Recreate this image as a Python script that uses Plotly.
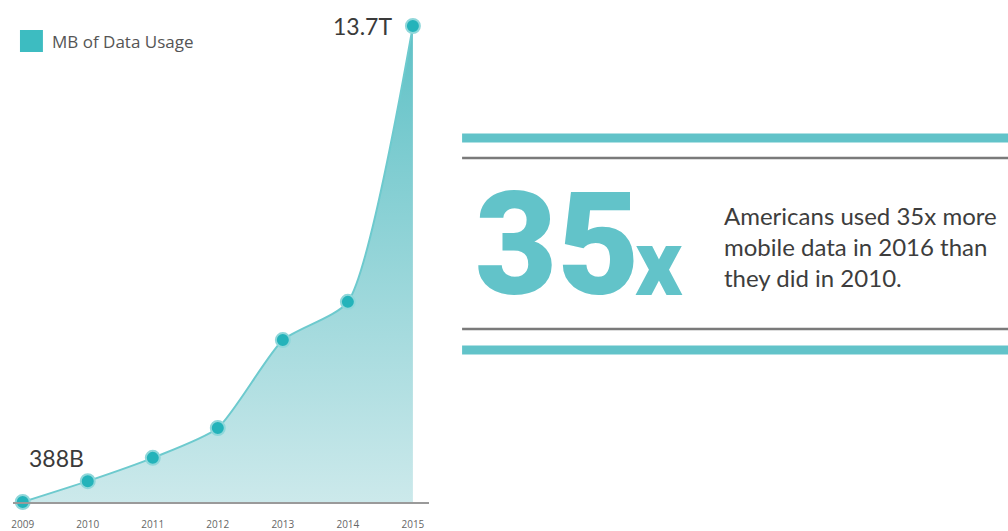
import plotly.graph_objects as go

# ---- data ----
years = [2009, 2010, 2011, 2012, 2013, 2014, 2015]
usage_tn_mb = [0.0, 0.60, 1.27, 2.13, 4.66, 5.76, 13.7]   # trillions of MB
tick_labels = ["2009", "2010", "2011", "2012", "2013", "2014", "2015"]
series_name = "MB of Data Usage"
first_label = "388B"
last_label = "13.7T"
stat_big = "35"
stat_suffix = "x"
stat_text = ["Americans used 35x more", "mobile data in 2016 than", "they did in 2010."]

W, H = 1008, 531
TEAL = "#62c3c9"
DOT = "#24b3ba"


def px(x):
    return x / W


def py(y):
    return 1 - y / H


fig = go.Figure()
fig.add_trace(go.Scatter(
    x=years, y=usage_tn_mb, mode="lines+markers", name=series_name,
    line=dict(color="#6dcace", width=2, shape="spline", smoothing=0.6),
    fill="tozeroy",
    fillgradient=dict(type="vertical", colorscale=[[0, "#cce9eb"], [1, "#5fc1c6"]]),
    marker=dict(size=14, color=DOT, line=dict(color="#8fd7da", width=2)),
    cliponaxis=False, showlegend=False, hoverinfo="x+y",
))

fig.update_layout(
    width=W, height=H,
    margin=dict(l=0, r=0, t=0, b=0),
    paper_bgcolor="white", plot_bgcolor="white",
    xaxis=dict(
        domain=[px(11), px(428)], range=[2008.85, 2015.25],
        tickvals=years, ticktext=tick_labels,
        showgrid=False, zeroline=False,
        showline=True, linecolor="#9a9a9a", linewidth=2,
        tickfont=dict(family="Open Sans", size=10, color="#666"),
        ticklabelstandoff=12, fixedrange=True,
    ),
    yaxis=dict(
        domain=[py(502), py(10)], range=[0, 13.7 * 492 / 476],
        visible=False, fixedrange=True,
    ),
)

annotations = [
    dict(x=2015, y=usage_tn_mb[-1], xref="x", yref="y", text=last_label,
         showarrow=False, xanchor="right", yanchor="middle", xshift=-19,
         font=dict(family="Lato", size=23, color="#3a3a3a")),
    dict(x=2009, y=usage_tn_mb[0], xref="x", yref="y", text=first_label,
         showarrow=False, xanchor="left", yanchor="middle", xshift=4, yshift=44,
         font=dict(family="Lato", size=23, color="#3a3a3a")),
    dict(x=px(48), y=py(41), xref="paper", yref="paper", text=series_name,
         showarrow=False, xanchor="left", yanchor="middle",
         font=dict(family="Open Sans", size=17, color="#555")),
    dict(x=px(472), y=py(246), xref="paper", yref="paper", text=stat_big,
         showarrow=False, xanchor="left", yanchor="middle",
         font=dict(family="Roboto", size=142, color=TEAL, weight=900)),
    dict(x=px(632), y=py(263), xref="paper", yref="paper", text=stat_suffix,
         showarrow=False, xanchor="left", yanchor="middle",
         font=dict(family="Roboto", size=92, color=TEAL, weight=900)),
    dict(x=px(721), y=py(247), xref="paper", yref="paper",
         text="<br>".join(stat_text), align="left",
         showarrow=False, xanchor="left", yanchor="middle",
         font=dict(family="Lato", size=24, color="#3d3d3d")),
]
fig.update_layout(annotations=annotations)

shapes = [
    dict(type="rect", xref="paper", yref="paper", x0=px(18), x1=px(41), y0=py(52), y1=py(30),
         fillcolor="#3dbcc1", line=dict(width=0)),
    dict(type="line", xref="paper", yref="paper", x0=px(461), x1=1, y0=py(138), y1=py(138),
         line=dict(color=TEAL, width=9)),
    dict(type="line", xref="paper", yref="paper", x0=px(461), x1=1, y0=py(158), y1=py(158),
         line=dict(color="#7a7a7a", width=2.5)),
    dict(type="line", xref="paper", yref="paper", x0=px(461), x1=1, y0=py(329), y1=py(329),
         line=dict(color="#7a7a7a", width=2.5)),
    dict(type="line", xref="paper", yref="paper", x0=px(461), x1=1, y0=py(350), y1=py(350),
         line=dict(color=TEAL, width=9)),
]
fig.update_layout(shapes=shapes)

fig.write_html("out.html")
